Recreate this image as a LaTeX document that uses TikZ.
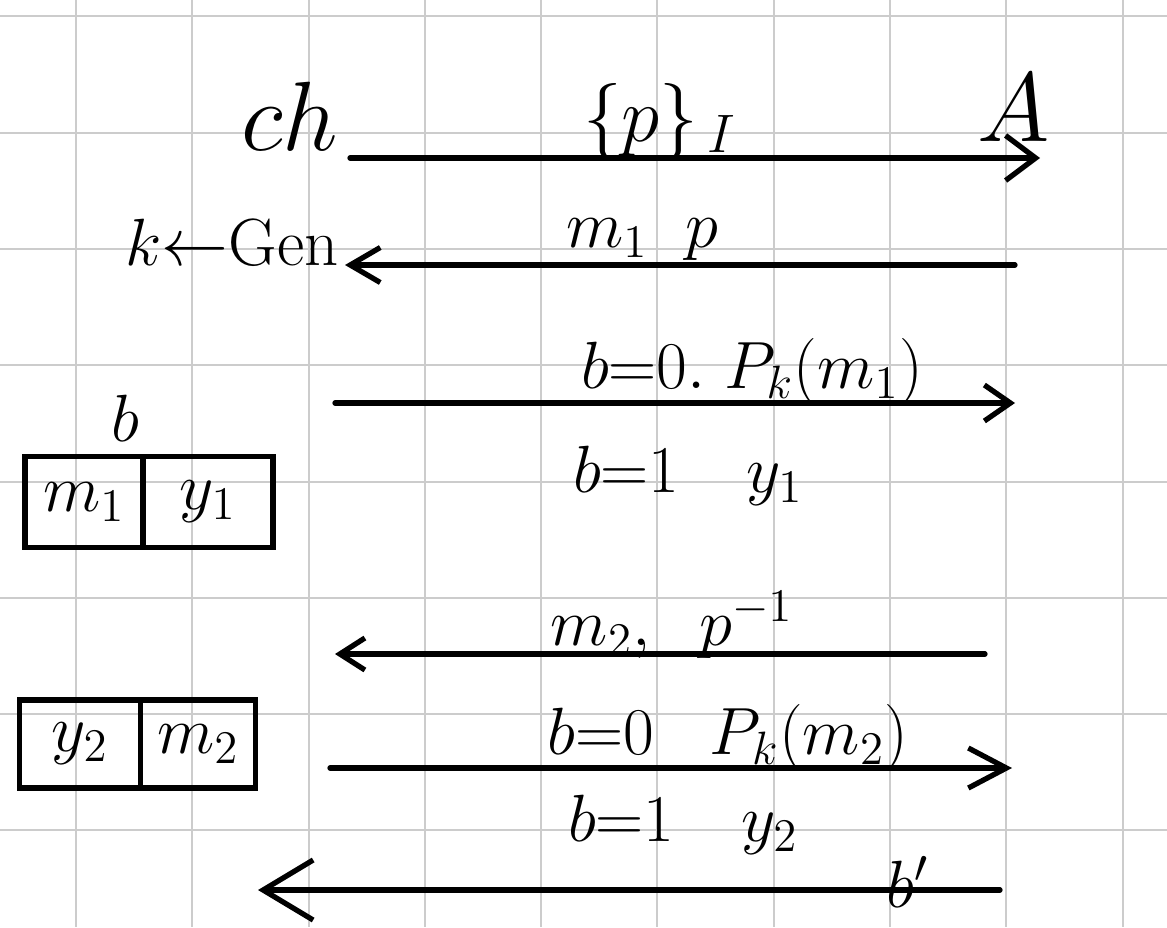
\RequirePackage{fix-cm}
\documentclass[tikz,border=0pt]{standalone}
\usetikzlibrary{positioning, arrows.meta}

\begin{document}
\begin{tikzpicture}[
      x=0.01cm, y=-0.01cm,
      paper/.style={draw=black!20, line width=0.7pt},
      ink/.style={line width=1.5pt, line cap=round},
      msg/.style={ink, -{Straight Barb[length=3mm, width=4.5mm, line width=1.5pt]}},
      lbl/.style={font=\fontsize{19}{23}\selectfont, inner sep=1pt},
      big/.style={font=\fontsize{28}{32}\selectfont, inner sep=1pt},
      cell/.style={rectangle, draw, line width=1.5pt, outer sep=0pt, inner sep=0pt,
      font=\fontsize{19}{23}\selectfont}
    ]
    % Paper and grid
    \fill[white] (0,0) rectangle (1167,927);
    \useasboundingbox (0,0) rectangle (1167,927);
    \foreach \gx in {76,192,309,425,541,657,774,890,1006,1123}
      \draw[paper] (\gx,0) -- (\gx,927);
    \foreach \gy in {16,133,249,365,482,598,714,830}
      \draw[paper] (0,\gy) -- (1167,\gy);

    % Parties
    \node[big] (ch) at (290,116) {$ch$};
    \node[big] (adv) at (1014,108) {$A$};
    \node[lbl] (gen) at (232,242) {$k{\leftarrow}\mathrm{Gen}$};

    % Arrow ends
    \coordinate (s1) at (350,158);  \coordinate (e1) at (1040,158);
    \coordinate (s2) at (1015,265); \coordinate (e2) at (345,265);
    \coordinate (s3) at (335,403);  \coordinate (e3) at (1015,403);
    \coordinate (s4) at (985,654);  \coordinate (e4) at (335,654);
    \coordinate (s5) at (330,768);  \coordinate (e5) at (1012,768);
    \coordinate (s6) at (1000,890); \coordinate (e6) at (258,890);

    % Messages
    \draw[msg] (s1) -- (e1);
    \node[lbl, font=\fontsize{22}{26}\selectfont] (m1) at (660,122) {$\{p\}_{\,I}$};
    \draw[msg, -{Straight Barb[length=3mm, width=3.5mm, line width=1.5pt]}] (s2) -- (e2);
    \node[lbl] (m2) at (642,240) {$m_1\;\; p$};
    \draw[msg, -{Straight Barb[length=2.6mm, width=3.6mm, line width=1.5pt]}] (s3) -- (e3);
    \node[lbl] (m3) at (752,372) {$b{=}0.\;P_k(m_1)$};
    \node[lbl] (m3b) at (688,476) {$b{=}1\quad y_1$};
    \draw[msg, -{Straight Barb[length=2.5mm, width=3.2mm, line width=1.5pt]}] (s4) -- (e4);
    \node[lbl] (m4) at (672,625) {$m_2,\;\; p^{-1}$};
    \draw[msg, -{Straight Barb[length=3.8mm, width=4mm, line width=1.5pt]}] (s5) -- (e5);
    \node[lbl] (m5) at (728,738) {$b{=}0\;\;\; P_k(m_2)$};
    \node[lbl] (m5b) at (683,825) {$b{=}1\quad y_2$};
    \draw[msg, -{Straight Barb[length=5mm, width=6mm, line width=1.5pt]}] (s6) -- (e6);
    \node[lbl] (m6) at (908,882) {$b'$};

    % Tables
    \node[lbl] (bit) at (125,418) {$b$};
    \node[cell, minimum width=1.18cm, minimum height=0.91cm] (tm1) at (84,502) {$m_1$};
    \node[cell, minimum width=1.30cm, minimum height=0.91cm, right=0pt of tm1] (ty1) {$y_1$};
    \node[cell, minimum width=1.21cm, minimum height=0.88cm] (ty2) at (80,744) {$y_2$};
    \node[cell, minimum width=1.15cm, minimum height=0.88cm, right=0pt of ty2] (tm2) {$m_2$};

  \end{tikzpicture}
\end{document}
